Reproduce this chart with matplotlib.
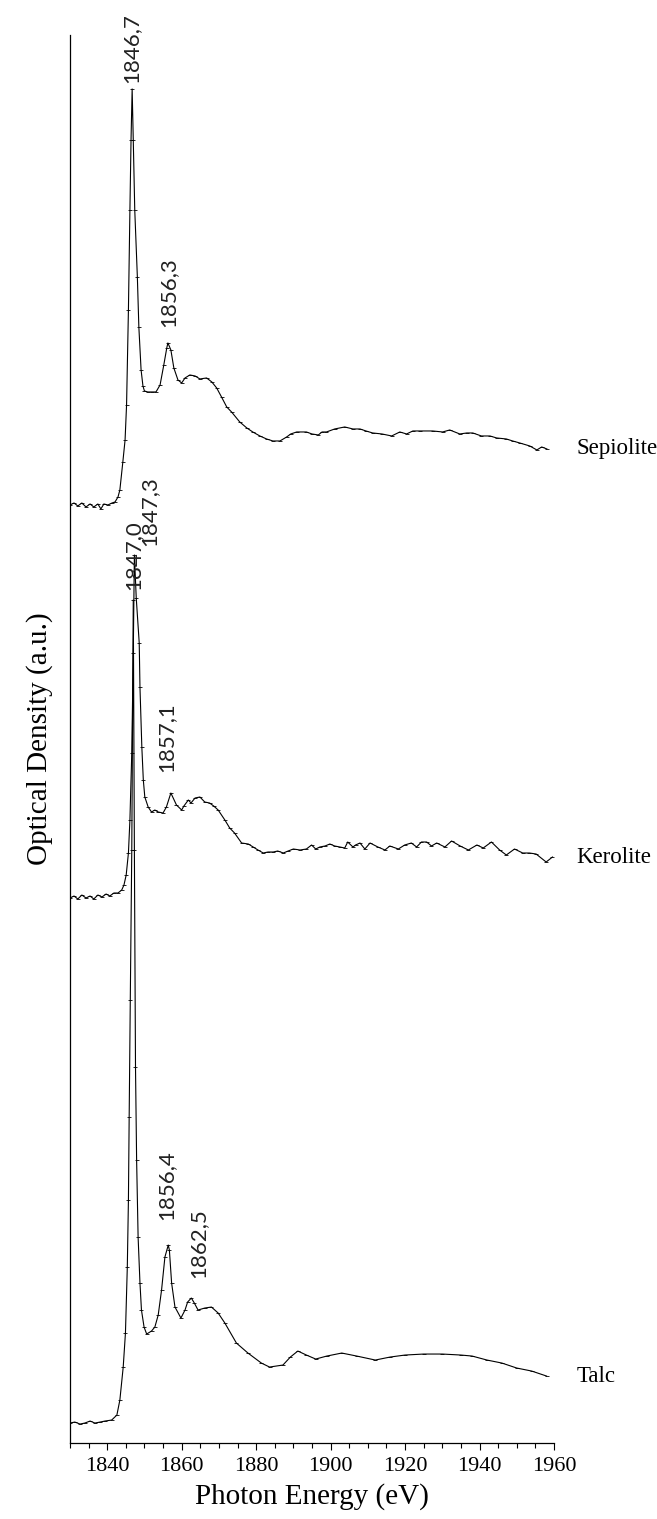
import numpy as np
import matplotlib
matplotlib.use('Agg')
import matplotlib.pyplot as plt
from matplotlib.ticker import MultipleLocator

# Photon energies (eV) and optical density (a.u., relative to each baseline)
sep_e = [1830.0, 1831.1, 1832.1, 1833.2, 1834.3, 1835.4, 1836.4, 1837.5, 1838.3, 1839.1,
         1840.2, 1841.3, 1842.1, 1842.9, 1843.4, 1844.2, 1844.8, 1845.2, 1845.7, 1846.1,
         1846.4, 1846.7, 1847.0, 1847.4, 1848.1, 1848.5, 1849.1, 1849.6, 1850.0, 1850.9,
         1852.0, 1853.1, 1854.2, 1855.2, 1856.0, 1856.3, 1857.1, 1857.9, 1859.0, 1860.0,
         1860.9, 1862.2, 1863.6, 1864.9, 1866.7, 1868.1, 1869.4, 1870.7, 1872.1, 1873.4,
         1875.6, 1877.5, 1879.1, 1881.0, 1882.8, 1884.5, 1886.4, 1888.2, 1889.3, 1890.9,
         1893.5, 1895.0, 1896.7, 1897.7, 1898.9, 1901.1, 1903.8, 1906.0, 1907.9, 1909.5,
         1911.3, 1913.8, 1916.4, 1918.6, 1920.4, 1922.1, 1924.0, 1927.4, 1930.1, 1932.0,
         1934.7, 1936.6, 1938.2, 1940.5, 1942.8, 1944.6, 1947.2, 1948.9, 1950.8, 1953.5,
         1955.4, 1956.7, 1958.1]
sep_od = [0.02, 0.04, 0.01, 0.04, 0.00, 0.03, 0.00, 0.03, -0.02, 0.03,
          0.02, 0.04, 0.05, 0.10, 0.17, 0.45, 0.67, 1.02, 1.97, 2.97,
          3.67, 4.18, 3.67, 2.97, 2.30, 1.80, 1.37, 1.21, 1.16, 1.15,
          1.15, 1.15, 1.22, 1.42, 1.59, 1.64, 1.57, 1.39, 1.27, 1.24,
          1.29, 1.32, 1.31, 1.28, 1.29, 1.25, 1.19, 1.10, 1.00, 0.95,
          0.85, 0.79, 0.75, 0.71, 0.68, 0.66, 0.66, 0.70, 0.73, 0.75,
          0.75, 0.73, 0.72, 0.75, 0.75, 0.78, 0.80, 0.78, 0.78, 0.76,
          0.74, 0.73, 0.71, 0.75, 0.73, 0.76, 0.76, 0.76, 0.75, 0.77,
          0.73, 0.74, 0.74, 0.71, 0.71, 0.69, 0.68, 0.66, 0.64, 0.61,
          0.57, 0.60, 0.58]

ker_e = [1830.0, 1831.1, 1832.1, 1833.2, 1834.3, 1835.4, 1836.4, 1837.5, 1838.6, 1839.7,
         1840.7, 1841.8, 1842.9, 1843.9, 1844.5, 1845.1, 1845.7, 1846.1, 1846.6, 1847.0,
         1847.3, 1847.8, 1848.6, 1848.8, 1849.3, 1849.7, 1850.1, 1851.0, 1851.9, 1852.8,
         1853.7, 1855.0, 1855.9, 1857.1, 1858.6, 1860.0, 1860.6, 1861.8, 1862.5, 1863.6,
         1864.9, 1866.2, 1867.5, 1868.6, 1869.8, 1871.6, 1872.9, 1874.2, 1876.1, 1877.9,
         1879.2, 1880.5, 1881.9, 1883.2, 1884.6, 1885.8, 1887.3, 1888.6, 1890.0, 1891.8,
         1893.5, 1894.9, 1896.0, 1897.1, 1898.5, 1899.8, 1901.1, 1902.5, 1903.8, 1904.6,
         1906.0, 1906.7, 1907.9, 1909.2, 1910.6, 1912.7, 1914.6, 1915.9, 1918.2, 1919.9,
         1921.7, 1923.1, 1924.4, 1925.8, 1927.1, 1928.5, 1930.7, 1932.5, 1934.8, 1937.0,
         1939.3, 1941.0, 1943.2, 1945.4, 1947.2, 1949.4, 1951.6, 1953.4, 1955.2, 1957.9,
         1959.6]
ker_od = [0.00, 0.02, -0.01, 0.03, 0.00, 0.02, -0.01, 0.03, 0.01, 0.04,
          0.02, 0.05, 0.05, 0.08, 0.13, 0.23, 0.45, 0.78, 1.45, 2.45,
          3.43, 3.00, 2.55, 2.11, 1.51, 1.18, 1.01, 0.91, 0.86, 0.88,
          0.86, 0.85, 0.91, 1.05, 0.93, 0.88, 0.92, 0.98, 0.95, 1.00,
          1.01, 0.96, 0.95, 0.92, 0.88, 0.78, 0.70, 0.65, 0.55, 0.54,
          0.51, 0.48, 0.45, 0.46, 0.46, 0.47, 0.45, 0.47, 0.49, 0.48,
          0.49, 0.53, 0.49, 0.51, 0.52, 0.54, 0.52, 0.51, 0.50, 0.56,
          0.51, 0.53, 0.55, 0.49, 0.55, 0.51, 0.48, 0.52, 0.49, 0.53,
          0.55, 0.51, 0.56, 0.56, 0.52, 0.55, 0.51, 0.57, 0.52, 0.48,
          0.53, 0.50, 0.56, 0.48, 0.43, 0.49, 0.45, 0.45, 0.44, 0.36,
          0.41]

talc_e = [1830.0, 1831.3, 1832.7, 1834.0, 1835.4, 1836.7, 1838.1, 1839.4, 1841.2, 1842.6,
          1843.4, 1844.3, 1844.9, 1845.4, 1845.7, 1845.9, 1846.2, 1846.6, 1847.0, 1847.3,
          1847.6, 1847.9, 1848.3, 1848.8, 1849.2, 1849.9, 1850.6, 1851.9, 1852.8, 1853.7,
          1854.6, 1855.5, 1856.4, 1856.7, 1857.3, 1858.2, 1859.8, 1860.9, 1861.6, 1862.6,
          1863.4, 1864.4, 1866.2, 1868.0, 1869.8, 1871.6, 1874.7, 1877.8, 1881.4, 1883.6,
          1887.2, 1889.2, 1891.2, 1893.5, 1896.0, 1899.0, 1903.0, 1907.0, 1912.0, 1916.0,
          1920.0, 1925.0, 1930.0, 1935.0, 1938.0, 1942.0, 1946.0, 1950.0, 1954.0, 1958.0]
talc_od = [0.00, 0.01, -0.01, 0.00, 0.02, 0.00, 0.01, 0.02, 0.03, 0.08,
           0.23, 0.56, 0.90, 1.56, 2.23, 3.06, 4.23, 5.73, 8.23, 5.73,
           3.56, 2.63, 1.86, 1.40, 1.13, 0.96, 0.89, 0.92, 0.96, 1.08,
           1.33, 1.66, 1.78, 1.73, 1.40, 1.16, 1.05, 1.13, 1.21, 1.25,
           1.20, 1.13, 1.15, 1.16, 1.10, 1.00, 0.80, 0.70, 0.60, 0.56,
           0.58, 0.66, 0.72, 0.68, 0.64, 0.67, 0.70, 0.67, 0.63, 0.66,
           0.68, 0.69, 0.69, 0.68, 0.67, 0.63, 0.60, 0.55, 0.52, 0.47]

names = ['Sepiolite', 'Kerolite', 'Talc']
offsets = [9.36, 5.45, 0.20]
peak_labels = [['1846,7', '1856,3'], ['1847,3', '1857,1'], ['1847,0', '1856,4', '1862,5']]
label_pos = [[(1846.6, 13.6), (1856.3, 11.16)],
             [(1851.3, 8.97), (1856.0, 6.71)],
             [(1847.0, 8.53), (1855.8, 2.23), (1864.4, 1.65)]]

fig = plt.figure(figsize=(6.57, 15.19), dpi=100)
ax = fig.add_axes([0.1065, 0.0500, 0.7367, 0.9270])

curves = [(sep_e, sep_od), (ker_e, ker_od), (talc_e, talc_od)]
for (e, od), off, name in zip(curves, offsets, names):
    y = np.array(od) + off
    ax.plot(e, y, color='black', lw=0.8, marker='_', ms=2.5, mew=0.6)
    ax.text(1966, y[-1], name, family='Liberation Serif', fontsize=16.5,
            va='center', ha='left', clip_on=False)

for labs, pos in zip(peak_labels, label_pos):
    for lab, (px, py) in zip(labs, pos):
        ax.text(px, py, lab, rotation=90, ha='center', va='bottom',
                family='Lato', fontsize=16, color='#222222', clip_on=False)

ax.set_xlim(1830, 1960)
ax.set_ylim(0, 14.08)
ax.spines['top'].set_visible(False)
ax.spines['right'].set_visible(False)
ax.spines['left'].set_linewidth(0.9)
ax.spines['bottom'].set_linewidth(0.9)
ax.set_yticks([])
ax.xaxis.set_minor_locator(MultipleLocator(5))
ax.set_xticks(np.arange(1840, 1961, 20))
ax.tick_params(axis='x', which='major', length=5, width=0.8, labelsize=16, pad=5)
ax.tick_params(axis='x', which='minor', length=3.5, width=0.8)
for t in ax.get_xticklabels():
    t.set_family('Liberation Serif')
ax.set_xlabel('Photon Energy (eV)', family='Liberation Serif', fontsize=21, labelpad=5)
ax.set_ylabel('Optical Density (a.u.)', family='Liberation Serif', fontsize=21, labelpad=12)

fig.savefig('out.png', dpi=100)
